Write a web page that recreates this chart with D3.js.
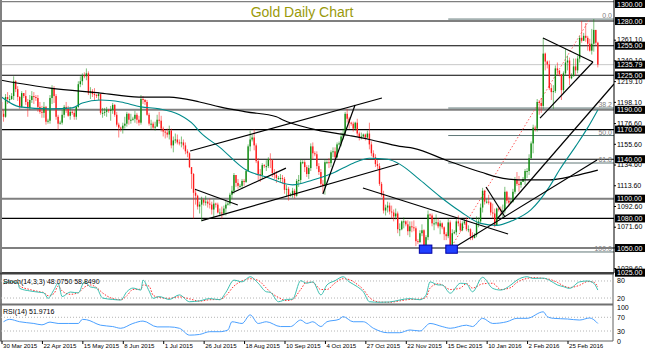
<!DOCTYPE html>
<html><head><meta charset="utf-8">
<script src="https://cdn.jsdelivr.net/npm/d3@7"></script>
<style>
body{margin:0;background:#fff}
svg{display:block}
text{font-family:"Liberation Sans",Arial,sans-serif}
</style></head>
<body><svg id="c" width="645" height="354"></svg>
<script>
// ---------------- DATA ----------------
const dateTickIdx = [0,20,40,60,80,100,120,140,160,180,200,220,240,260,280];
const dateLabels = ["30 Mar 2015","22 Apr 2015","15 May 2015","8 Jun 2015","1 Jul 2015","26 Jul 2015","18 Aug 2015","10 Sep 2015","4 Oct 2015","27 Oct 2015","22 Nov 2015","15 Dec 2015","10 Jan 2016","2 Feb 2016","25 Feb 2016"];

const firstOpen = 1198;
const closes = [
1186,1183,1203,1201,1201,1204,1219,1211,1203,1193,
1207,1204,1198,1192,1200,1204,1203,1202,1193,1188,
1187,1193,1178,1179,1202,1212,1204,1183,1176,1177,
1185,1193,1191,1184,1188,1187,1183,1193,1216,1219,
1225,1224,1227,1207,1209,1206,1205,1204,1206,1187,
1187,1188,1190,1189,1190,1195,1185,1175,1172,1171,
1174,1176,1186,1180,1180,1181,1185,1180,1177,1201,
1200,1198,1185,1176,1176,1172,1173,1180,1179,1171,
1168,1167,1165,1169,1154,1159,1160,1157,1156,1157,
1154,1148,1146,1132,1125,1106,1103,1092,1094,1099,
1096,1097,1095,1094,1089,1095,1094,1086,1086,1085,
1090,1094,1095,1104,1108,1124,1116,1113,1113,1118,
1117,1128,1153,1160,1162,1154,1138,1125,1124,1134,
1133,1133,1140,1139,1126,1124,1121,1121,1121,1120,
1109,1110,1103,1104,1108,1103,1118,1119,1137,1137,
1132,1125,1131,1153,1146,1145,1133,1127,1115,1113,
1137,1137,1136,1147,1148,1142,1155,1156,1163,1166,
1186,1181,1177,1176,1171,1177,1166,1162,1163,1165,
1162,1166,1155,1146,1142,1135,1133,1115,1104,1088,
1091,1093,1087,1086,1082,1085,1069,1069,1077,1077,
1074,1067,1072,1071,1070,1057,1056,1065,1068,1053,
1061,1084,1083,1075,1075,1076,1072,1075,1071,1064,
1062,1076,1050,1065,1066,1077,1075,1068,1075,1077,
1069,1069,1062,1060,1063,1075,1077,1091,1108,1097,
1097,1096,1086,1085,1073,1090,1089,1088,1088,1107,
1098,1096,1097,1107,1119,1115,1114,1117,1120,1128,
1128,1141,1156,1172,1171,1198,1197,1194,1247,1239,
1236,1212,1208,1209,1232,1230,1226,1210,1227,1238,
1240,1222,1224,1234,1230,1242,1263,1260,1265,1263,
1257,1250,1257,1271,1258,1235.79];
const highs = [
1200,1190,1206,1208,1205,1207,1224,1220,1214,1204,
1209,1207,1210,1201,1205,1209,1208,1205,1205,1198,
1194,1198,1194,1181,1205,1215,1214,1206,1185,1179,
1190,1195,1198,1194,1193,1190,1190,1194,1219,1224,
1227,1228,1232,1229,1213,1211,1212,1206,1208,1206,
1192,1192,1193,1191,1194,1197,1196,1188,1177,1173,
1177,1183,1188,1187,1186,1183,1189,1187,1184,1205,
1204,1201,1200,1187,1180,1178,1178,1185,1188,1184,
1173,1170,1171,1174,1171,1163,1166,1165,1160,1163,
1160,1157,1150,1147,1132,1126,1110,1104,1097,1102,
1100,1103,1099,1100,1097,1099,1096,1096,1090,1092,
1093,1098,1097,1106,1113,1126,1124,1120,1115,1120,
1120,1130,1155,1169,1165,1170,1156,1141,1130,1136,
1135,1139,1142,1146,1140,1130,1128,1123,1125,1124,
1122,1114,1112,1106,1111,1110,1120,1124,1140,1139,
1139,1134,1134,1156,1157,1148,1148,1136,1130,1119,
1140,1139,1141,1149,1152,1152,1157,1158,1167,1171,
1188,1191,1183,1178,1178,1178,1181,1168,1167,1166,
1166,1169,1177,1158,1149,1145,1139,1136,1117,1108,
1094,1097,1096,1093,1089,1090,1087,1075,1078,1081,
1078,1078,1077,1077,1078,1072,1059,1068,1074,1069,
1063,1088,1085,1085,1080,1084,1080,1078,1076,1072,
1066,1080,1078,1069,1068,1080,1083,1078,1077,1079,
1081,1073,1070,1066,1065,1082,1081,1095,1111,1109,
1100,1104,1097,1095,1090,1091,1092,1092,1094,1112,
1108,1102,1099,1110,1122,1127,1123,1119,1122,1130,
1131,1145,1158,1175,1174,1201,1200,1202,1263,1248,
1240,1240,1216,1215,1235,1238,1229,1226,1229,1252,
1245,1243,1227,1242,1242,1245,1265,1280,1268,1278,
1265,1262,1272,1282,1261,1259];
const lows = [
1181,1178,1182,1196,1197,1200,1200,1208,1199,1191,
1192,1202,1195,1183,1190,1197,1196,1199,1188,1186,
1182,1182,1175,1176,1176,1196,1197,1180,1170,1175,
1175,1182,1187,1183,1180,1185,1180,1180,1192,1213,
1215,1222,1220,1205,1201,1203,1200,1202,1200,1185,
1182,1184,1183,1187,1179,1186,1183,1173,1162,1168,
1166,1171,1173,1175,1176,1179,1177,1176,1174,1175,
1196,1195,1184,1174,1170,1170,1169,1173,1176,1168,
1163,1161,1162,1160,1151,1147,1156,1155,1154,1152,
1150,1145,1142,1131,1110,1080,1094,1089,1085,1077,
1093,1093,1091,1090,1084,1080,1091,1085,1082,1080,
1083,1083,1093,1093,1100,1105,1112,1110,1111,1110,
1113,1116,1127,1148,1158,1149,1136,1119,1117,1120,
1131,1128,1131,1131,1122,1120,1116,1119,1117,1115,
1105,1102,1098,1102,1101,1100,1102,1112,1115,1135,
1127,1122,1120,1128,1140,1143,1130,1124,1112,1106,
1104,1135,1131,1132,1142,1140,1141,1154,1153,1160,
1165,1177,1171,1174,1168,1169,1163,1159,1160,1162,
1159,1161,1150,1143,1140,1132,1130,1113,1102,1085,
1083,1086,1084,1080,1077,1079,1065,1062,1068,1070,
1072,1063,1061,1066,1067,1052,1054,1055,1062,1051,
1046,1058,1080,1072,1068,1073,1070,1064,1069,1058,
1058,1060,1049,1047,1064,1063,1072,1066,1067,1074,
1067,1066,1058,1058,1060,1061,1071,1075,1086,1094,
1095,1094,1083,1080,1071,1073,1087,1083,1081,1085,
1095,1092,1095,1096,1105,1113,1107,1111,1117,1114,
1121,1124,1140,1146,1168,1168,1185,1187,1191,1230,
1232,1210,1200,1191,1207,1225,1224,1200,1206,1225,
1230,1215,1221,1225,1225,1227,1238,1258,1262,1259,
1250,1249,1246,1249,1255,1233];

// moving averages (read at sample bars)
const maBlackIdx = [0,24,49,68,83,98,108,121,136,139,153,172,182,197,204,220,237,250,261,271,283,295];
const maBlackVal = [1220,1212,1207,1203,1203,1198,1193,1188,1183,1180,1171,1164,1160,1153,1151,1139,1127,1120,1119,1119,1123,1129];
const maTealIdx = [0,9,24,35,40,49,59,69,78,88,95,98,108,121,131,144,154,164,174,182,191,197,207,217,227,237,245,253,262,271,276,284,290,295];
const maTealVal = [1203,1193,1191,1192,1197,1200,1198,1193,1191,1185,1175,1168,1152,1129,1122,1114,1119,1126,1136,1141,1140,1135,1119,1102,1087,1075,1073,1078,1089,1112,1129,1153,1172,1190];

// horizontal levels, price-axis labels
const levelPrices = [1300,1280,1255,1225,1190,1170,1140,1100,1080,1050,1025];
const currentPrice = 1235.79;
const priceTicks = [1261.1,1240.1,1219.1,1198.1,1176.6,1155.6,1134.6,1113.6,1092.6,1071.6,1050.6,1029.6];
const boxedPrices = [1300,1280,1255,1235.79,1225,1190,1170,1140,1100,1080,1050,1025];

// fibonacci retracement anchors [bar, price]
const fibAnchors = [[221,1046],[291,1282]];
const fibLevels = [0,38.2,50,61.8,100];
const fibLabels = ["0.0","38.2","50.0","61.8","100.0"];

// trend lines [[bar,price],[bar,price]]
const trendLines = [
 [[95.7,1109.5],[116.9,1093.6]],
 [[99,1077.7],[196.4,1135.1]],
 [[93.3,1148.3],[188.2,1202]],
 [[114,1105.7],[140.7,1131]],
 [[159,1104.7],[174.9,1194.9]],
 [[178.8,1110.8],[250.6,1064.2]],
 [[220.4,1046],[294.6,1139.2]],
 [[245.1,1079.4],[303,1216.2]],
 [[239.7,1111.8],[249.1,1081.4]],
 [[267.9,1262.8],[292.6,1238.5]],
 [[266.4,1181.7],[292.6,1238.5]]
];
// double-bottom markers [bar0,bar1,priceTop,priceBottom]
const bottomBoxes = [[206.7,212.9,1053,1044.7],[219.8,225.5,1053,1044.7]];

// Stochastic (14,3,3)
const stochIdx = [1,4,8,9,14,19,21,23,26,28,30,34,38,41,44,47,50,55,59,62,65,69,70,73,75,78,83,88,93,98,103,108,111,115,119,123,127,131,133,137,141,144,148,151,154,158,161,165,169,172,176,179,182,187,192,197,202,207,210,212,216,218,222,227,230,233,238,243,247,252,255,260,263,268,271,275,278,281,286,290,293,295];
const stochMain = [72,77,75,54,45,40,38,19,50,72,25,41,38,77,59,55,20,15,13,42,55,48,83,45,19,25,15,31,7,10,18,14,40,83,77,95,72,42,40,7,15,16,81,72,77,31,66,81,95,77,60,42,7,5,6,13,18,14,30,77,66,66,37,72,70,42,93,54,48,66,83,95,89,90,83,66,60,54,77,80,72,48.075];
const stochSignal = [70,75,76,62,50,42,39,28,36,62,45,33,39,58,66,57,38,18,14,28,50,51,66,62,30,22,19,24,17,9,14,15,28,62,80,88,82,55,41,22,11,15,50,76,75,50,50,73,88,85,68,50,22,6,5,10,15,16,22,55,70,66,50,55,71,55,70,72,50,57,75,89,92,89,86,75,63,57,65,78,76,58.849];
const stochLevels = [80,20];

// RSI (14)
const rsiIdx = [1,4,9,16,20,24,28,33,38,40,42,49,55,59,65,70,77,83,88,93,98,103,108,112,114,119,123,127,131,138,143,148,151,154,158,161,167,169,174,179,184,191,197,202,207,212,218,222,230,233,238,243,250,255,260,268,270,273,280,286,291,295];
const rsiVal = [57,64,57,52,48,56,52,52,52,64,63,47,43,38,52,59,42,42,38,18,20,28,28,33,57,52,77,52,57,43,43,62,52,57,43,57,64,72,57,57,38,25,25,33,30,52,43,38,47,43,67,52,57,67,67,86,72,67,65,62,68,51.9716];
const rsiLevels = [70,30];
const rsiAxis = [100,70,30,0];

// ---------------- DRAW ----------------
const svg = d3.select('#c');
const RIGHT = 614;
const GREEN = '#128c12', RED = '#ff1c1c';
const x  = d3.scaleLinear().domain([0,280]).range([1.5,567.5]);
const yM = d3.scaleLinear().domain([1025,1300]).range([272.7,1.3]);
const yS = d3.scaleLinear().domain([0,100]).range([303.7,275.3]);
const yR = d3.scaleLinear().domain([0,100]).range([341.3,307]);

const defs = svg.append('defs');
defs.append('clipPath').attr('id','cm').append('rect').attr('x',1).attr('y',1).attr('width',RIGHT-1).attr('height',272);
defs.append('clipPath').attr('id','cs').append('rect').attr('x',1).attr('y',274).attr('width',RIGHT-2).attr('height',30);
defs.append('clipPath').attr('id','cr').append('rect').attr('x',1).attr('y',306).attr('width',RIGHT-2).attr('height',35);

const gm = svg.append('g').attr('clip-path','url(#cm)');

// horizontal levels
const greyLevels = new Set([1300,1190,1100,1050]);
gm.selectAll('line.lvl').data(levelPrices).join('line')
  .attr('x1',0).attr('x2',RIGHT).attr('y1',d=>yM(d)).attr('y2',d=>yM(d))
  .attr('stroke',d=>greyLevels.has(d)?'#7f7f7f':'#000')
  .attr('stroke-width',d=>greyLevels.has(d)?2:1.1);
gm.append('line').attr('x1',0).attr('x2',RIGHT).attr('y1',yM(currentPrice)).attr('y2',yM(currentPrice))
  .attr('stroke','#c8c8c8').attr('stroke-width',1);

// fibonacci
const fLo = fibAnchors[0][1], fHi = fibAnchors[1][1];
const fibData = fibLevels.map((l,i)=>({p:fHi-(fHi-fLo)*l/100, t:fibLabels[i]}));
gm.selectAll('line.fib').data(fibData).join('line')
  .attr('x1',x(fibAnchors[0][0])).attr('x2',RIGHT).attr('y1',d=>yM(d.p)).attr('y2',d=>yM(d.p))
  .attr('stroke','#607878').attr('stroke-width',1);
gm.append('line').attr('x1',x(fibAnchors[0][0])).attr('y1',yM(fLo)).attr('x2',x(fibAnchors[1][0])).attr('y2',yM(fHi))
  .attr('stroke','#ff6060').attr('stroke-width',1).attr('stroke-dasharray','1.5,2');
gm.selectAll('text.fib').data(fibData).join('text')
  .attr('x',RIGHT-2).attr('y',d=>yM(d.p)-1).attr('text-anchor','end')
  .attr('font-size',7).attr('fill','#808080').text(d=>d.t);

// candles
const bars = closes.map((c,i)=>{const o=i?closes[i-1]:firstOpen;return {i,o,c,h:Math.max(highs[i],o,c),l:Math.min(lows[i],o,c)};});
gm.selectAll('line.wick').data(bars).join('line')
  .attr('x1',d=>x(d.i)).attr('x2',d=>x(d.i)).attr('y1',d=>yM(d.h)).attr('y2',d=>yM(d.l))
  .attr('stroke',d=>d.c>=d.o?GREEN:RED).attr('stroke-width',1).attr('stroke-opacity',0.55);
gm.selectAll('rect.body').data(bars).join('rect')
  .attr('x',d=>x(d.i)-0.7).attr('width',1.4)
  .attr('y',d=>yM(Math.max(d.o,d.c))).attr('height',d=>Math.max(1,Math.abs(yM(d.o)-yM(d.c))))
  .attr('fill',d=>d.c>=d.o?GREEN:RED);

// moving averages
const lineM = d3.line().x(d=>x(d[0])).y(d=>yM(d[1])).curve(d3.curveMonotoneX);
gm.append('path').attr('d',lineM(maBlackIdx.map((d,i)=>[d,maBlackVal[i]]))).attr('fill','none').attr('stroke','#000').attr('stroke-width',1.2);
gm.append('path').attr('d',lineM(maTealIdx.map((d,i)=>[d,maTealVal[i]]))).attr('fill','none').attr('stroke','#008b8b').attr('stroke-width',1.1);

// trend lines
gm.selectAll('line.tl').data(trendLines).join('line')
  .attr('x1',d=>x(d[0][0])).attr('y1',d=>yM(d[0][1])).attr('x2',d=>x(d[1][0])).attr('y2',d=>yM(d[1][1]))
  .attr('stroke','#000').attr('stroke-width',1.2);

// bottom boxes
gm.selectAll('rect.bb').data(bottomBoxes).join('rect')
  .attr('x',d=>x(d[0])).attr('width',d=>x(d[1])-x(d[0]))
  .attr('y',d=>yM(d[2])).attr('height',d=>yM(d[3])-yM(d[2]))
  .attr('fill','#2040ff').attr('stroke','#0000a8').attr('stroke-width',1);

// title
svg.append('text').attr('x',302).attr('y',17).attr('text-anchor','middle')
  .attr('font-size',14).attr('fill','#9a9a0a').text('Gold Daily Chart');

// frames
svg.append('line').attr('x1',RIGHT).attr('x2',RIGHT).attr('y1',0).attr('y2',273).attr('stroke','#000').attr('stroke-width',1);
svg.append('line').attr('x1',1).attr('x2',1).attr('y1',0).attr('y2',341).attr('stroke','#808080').attr('stroke-width',2);
svg.append('line').attr('x1',0).attr('x2',RIGHT).attr('y1',273.6).attr('y2',273.6).attr('stroke','#404040').attr('stroke-width',2);
svg.append('line').attr('x1',0).attr('x2',RIGHT-1).attr('y1',304.6).attr('y2',304.6).attr('stroke','#707070').attr('stroke-width',2);
svg.append('line').attr('x1',0).attr('x2',RIGHT-1).attr('y1',341).attr('y2',341).attr('stroke','#606060').attr('stroke-width',1);
svg.append('line').attr('x1',RIGHT-1).attr('x2',RIGHT-1).attr('y1',274).attr('y2',341).attr('stroke','#606060').attr('stroke-width',1);

// price axis
const ay = svg.append('g').attr('transform',`translate(${RIGHT},0)`)
  .call(d3.axisRight(yM).tickValues(priceTicks).tickFormat(d3.format('.2f')).tickSize(2).tickSizeOuter(0).tickPadding(1));
ay.select('.domain').remove();
ay.selectAll('text').attr('font-size',7).attr('font-family','"Liberation Sans",Arial,sans-serif').attr('fill','#000');
const bx = svg.append('g');
const boxTop = d=>Math.max(0, yM(d)-4);
bx.selectAll('rect').data(boxedPrices).join('rect')
  .attr('x',RIGHT+1).attr('width',645-RIGHT-1).attr('y',boxTop).attr('height',8).attr('fill','#000');
bx.selectAll('text').data(boxedPrices).join('text')
  .attr('x',RIGHT+3).attr('y',d=>boxTop(d)+6.6).attr('font-size',7).attr('fill','#fff').text(d=>d3.format('.2f')(d));

// stochastic panel
const gs = svg.append('g').attr('clip-path','url(#cs)');
gs.selectAll('line').data(stochLevels).join('line')
  .attr('x1',1).attr('x2',RIGHT-1).attr('y1',d=>yS(d)).attr('y2',d=>yS(d))
  .attr('stroke','#b4b4b4').attr('stroke-dasharray','1,2');
const lineS = d3.line().x(d=>x(d[0])).y(d=>yS(d[1])).curve(d3.curveMonotoneX);
gs.append('path').attr('d',lineS(stochIdx.map((d,i)=>[d,stochSignal[i]]))).attr('fill','none').attr('stroke','#ff3030').attr('stroke-width',1).attr('stroke-dasharray','1.5,1.5');
gs.append('path').attr('d',lineS(stochIdx.map((d,i)=>[d,stochMain[i]]))).attr('fill','none').attr('stroke','#3cbfb0').attr('stroke-width',1);
svg.append('text').attr('x',3).attr('y',283.5).attr('font-size',7).attr('fill','#000')
  .text(`Stoch(14,3,3) ${d3.format('.4f')(stochMain[stochMain.length-1])} ${d3.format('.4f')(stochSignal[stochSignal.length-1])}`);
svg.selectAll('text.sl').data(stochLevels).join('text').attr('class','sl')
  .attr('x',RIGHT+3).attr('y',d=>yS(d)+2.5).attr('font-size',7).attr('fill','#000').text(d=>d);

// RSI panel
const gr = svg.append('g').attr('clip-path','url(#cr)');
gr.selectAll('line').data(rsiLevels).join('line')
  .attr('x1',1).attr('x2',RIGHT-1).attr('y1',d=>yR(d)).attr('y2',d=>yR(d))
  .attr('stroke','#b4b4b4').attr('stroke-dasharray','1,2');
const lineR = d3.line().x(d=>x(d[0])).y(d=>yR(d[1])).curve(d3.curveMonotoneX);
gr.append('path').attr('d',lineR(rsiIdx.map((d,i)=>[d,rsiVal[i]]))).attr('fill','none').attr('stroke','#4aa0ff').attr('stroke-width',1);
svg.append('text').attr('x',3).attr('y',314).attr('font-size',7).attr('fill','#000')
  .text(`RSI(14) ${d3.format('.4f')(rsiVal[rsiVal.length-1])}`);
svg.selectAll('text.rl').data(rsiAxis).join('text').attr('class','rl')
  .attr('x',RIGHT+3).attr('y',d=>yR(d)+2.5).attr('font-size',7).attr('fill','#000').text(d=>d);

// date axis
const ax = svg.append('g').attr('transform','translate(0,341)')
  .call(d3.axisBottom(x).tickValues(dateTickIdx).tickFormat((d,i)=>dateLabels[i]).tickSize(3).tickSizeOuter(0));
ax.select('.domain').remove();
ax.selectAll('line').attr('stroke','#000');
ax.selectAll('text').attr('font-size',6.1).attr('font-family','"Liberation Sans",Arial,sans-serif')
  .attr('text-anchor','start').attr('x',1).attr('y',3).attr('fill','#000');
</script></body></html>
